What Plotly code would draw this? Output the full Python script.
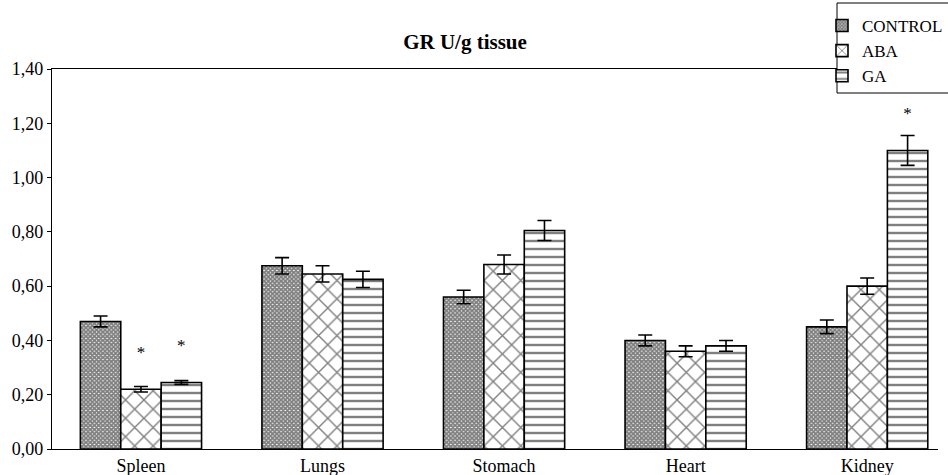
import plotly.graph_objects as go

categories = ["Spleen", "Lungs", "Stomach", "Heart", "Kidney"]
series_names = ["CONTROL", "ABA", "GA"]
control_vals = [0.47, 0.675, 0.56, 0.40, 0.45]
aba_vals = [0.22, 0.645, 0.68, 0.36, 0.60]
ga_vals = [0.245, 0.625, 0.805, 0.38, 1.10]
control_err = [0.02, 0.03, 0.025, 0.02, 0.025]
aba_err = [0.01, 0.03, 0.035, 0.02, 0.03]
ga_err = [0.007, 0.03, 0.037, 0.02, 0.055]
# significance markers (y position of "*", None = no marker)
control_star = [None, None, None, None, None]
aba_star = [0.352, None, None, None, None]
ga_star = [0.377, None, None, None, 1.232]
y_ticks = [0.0, 0.2, 0.4, 0.6, 0.8, 1.0, 1.2, 1.4]

W, H = 948, 475
ML, MR, MT, MB = 52, 10, 69, 26
PW, PH = W - ML - MR, H - MT - MB

bar_w = 0.2225
offsets = [-bar_w, 0.0, bar_w]
patterns = [
    dict(shape="x", size=3, solidity=0.85, fgcolor="black", bgcolor="white"),
    dict(shape="x", size=13, solidity=0.2, fgcolor="black", bgcolor="white"),
    dict(shape="-", size=8, solidity=0.3, fgcolor="black", bgcolor="white"),
]
values = [control_vals, aba_vals, ga_vals]
errors = [control_err, aba_err, ga_err]
stars = [control_star, aba_star, ga_star]
idx = list(range(len(categories)))

serif = "Liberation Serif"
fig = go.Figure()
for name, vals, errs, pat, off in zip(series_names, values, errors, patterns, offsets):
    fig.add_trace(go.Bar(
        name=name, x=[i + off for i in idx], y=vals, width=bar_w,
        marker=dict(color="white", pattern=pat, line=dict(color="black", width=1.6)),
        error_y=dict(type="data", array=errs, visible=True, color="black",
                     thickness=1.6, width=7),
    ))
for st, off in zip(stars, offsets):
    xs = [i + off for i, s in zip(idx, st) if s is not None]
    ys = [s for s in st if s is not None]
    if xs:
        fig.add_trace(go.Scatter(
            x=xs, y=ys, mode="text", text=["*"] * len(xs), showlegend=False,
            textfont=dict(family=serif, size=17, color="black"), hoverinfo="skip",
        ))

# legend frame box (extends past right edge like the reference)
lx0, lx1, ly0, ly1 = 837, 970, 3, 93
fig.add_shape(type="rect", xref="paper", yref="paper", layer="above",
              x0=(lx0 - ML) / PW, x1=(lx1 - ML) / PW,
              y0=(H - MB - ly1) / PH, y1=(H - MB - ly0) / PH,
              line=dict(color="black", width=1), fillcolor="white")

fig.update_layout(
    width=W, height=H, barmode="overlay",
    margin=dict(l=ML, r=MR, t=MT, b=MB, autoexpand=False),
    paper_bgcolor="white", plot_bgcolor="white",
    separators=",.",
    font=dict(family=serif, size=18, color="black"),
    title=dict(text="<b>GR U/g tissue</b>", x=465 / W, xref="container",
               xanchor="center", y=1 - 42 / H, yanchor="middle",
               font=dict(family=serif, size=21, color="black")),
    legend=dict(x=(822 - ML) / PW, y=(H - MB - 8) / PH, xanchor="left", yanchor="top",
                bgcolor="rgba(0,0,0,0)", borderwidth=0,
                font=dict(family=serif, size=17, color="black"), traceorder="normal"),
    showlegend=True,
)
fig.update_xaxes(range=[-0.49, 4.39], tickvals=idx, ticktext=categories,
                 showline=True, linecolor="black", linewidth=1.2, mirror=True,
                 ticks="", showgrid=False, zeroline=False,
                 tickfont=dict(family=serif, size=18, color="black"))
fig.update_yaxes(range=[0, 1.4], tickvals=y_ticks, tickformat=".2f",
                 showline=True, linecolor="black", linewidth=1.2,
                 ticks="outside", ticklen=4, tickcolor="black", tickwidth=1.2,
                 showgrid=False, zeroline=False,
                 tickfont=dict(family=serif, size=18, color="black"))

fig.write_html("out.html")
